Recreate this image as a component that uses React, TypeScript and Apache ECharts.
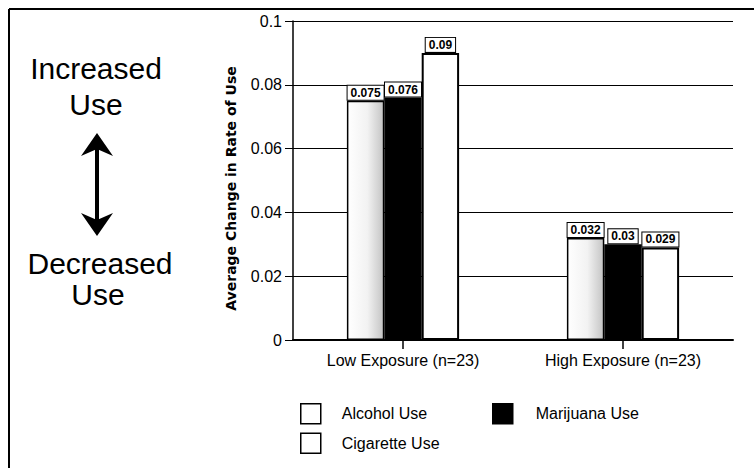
import React, { useEffect, useRef } from "react";
import * as echarts from "echarts";

// Exposure groups and the average change in rate of use for each substance
const categories = ["Low Exposure (n=23)", "High Exposure (n=23)"];
const seriesNames = ["Alcohol Use", "Marijuana Use", "Cigarette Use"];
const alcoholUse = [0.075, 0.032];
const marijuanaUse = [0.076, 0.03];
const cigaretteUse = [0.09, 0.029];
const yMin = 0;
const yMax = 0.1;
const yStep = 0.02;

const FONT = "Liberation Sans, Arial, sans-serif";

export default function App() {
  const ref = useRef<HTMLDivElement>(null);

  useEffect(() => {
    if (!ref.current) return;
    const chart = echarts.init(ref.current, null, { renderer: "svg" });

    const valueLabel = {
      show: true,
      position: "top" as const,
      distance: 1,
      color: "#000",
      fontFamily: FONT,
      fontSize: 12,
      fontWeight: "bold" as const,
      backgroundColor: "#fff",
      borderColor: "#000",
      borderWidth: 1,
      padding: [1, 3, 1, 3],
    };

    const alcoholFill = new echarts.graphic.LinearGradient(0, 0, 1, 0, [
      { offset: 0, color: "#ffffff" },
      { offset: 0.55, color: "#f2f2f2" },
      { offset: 1, color: "#c4c4c4" },
    ]);

    chart.setOption({
      animation: false,
      backgroundColor: "#fff",
      textStyle: { fontFamily: FONT, color: "#000" },
      grid: { left: 293, right: 21, top: 21, bottom: 128, containLabel: false },
      xAxis: {
        type: "category",
        data: categories,
        boundaryGap: true,
        axisLine: { show: true, lineStyle: { color: "#000", width: 2 } },
        axisTick: { show: true, alignWithLabel: true, length: 9, lineStyle: { color: "#000", width: 1.5 } },
        axisLabel: { color: "#000", fontFamily: FONT, fontSize: 16, margin: 12 },
        splitLine: { show: false },
      },
      yAxis: {
        type: "value",
        min: yMin,
        max: yMax,
        interval: yStep,
        name: "Average Change in Rate of Use",
        nameLocation: "middle",
        nameGap: 55,
        nameTextStyle: {
          color: "#000",
          fontFamily: "DejaVu Sans, sans-serif",
          fontWeight: "bold",
          fontSize: 14,
          padding: [0, 0, 0, -16],
        },
        axisLine: { show: true, lineStyle: { color: "#000", width: 1.5 } },
        axisTick: { show: true, inside: false, length: 8, lineStyle: { color: "#000", width: 1 } },
        axisLabel: {
          color: "#000",
          fontFamily: FONT,
          fontSize: 16,
          margin: 11,
          formatter: (v: number) => String(+v.toFixed(2)),
        },
        splitLine: { show: true, lineStyle: { color: "#000", width: 1 } },
      },
      legend: [
        {
          data: [
            { name: "Alcohol Use", itemStyle: { color: "#fff" } },
            { name: "Cigarette Use", itemStyle: { color: "#fff" } },
          ],
          orient: "vertical",
          left: 295,
          top: 398,
          itemWidth: 20,
          itemHeight: 20,
          itemGap: 8,
          icon: "rect",
          selectedMode: false,
          itemStyle: { borderColor: "#000", borderWidth: 1.5 },
          textStyle: { color: "#000", fontFamily: FONT, fontSize: 16, padding: [0, 0, 0, 16] },
        },
        {
          data: [{ name: "Marijuana Use", itemStyle: { color: "#000" } }],
          orient: "vertical",
          left: 487,
          top: 398,
          itemWidth: 20,
          itemHeight: 20,
          icon: "rect",
          selectedMode: false,
          itemStyle: { borderColor: "#000", borderWidth: 1.5 },
          textStyle: { color: "#000", fontFamily: FONT, fontSize: 16, padding: [0, 0, 0, 18] },
        },
      ],
      series: [
        {
          name: seriesNames[0],
          type: "bar",
          data: alcoholUse,
          barGap: "0%",
          barCategoryGap: "49%",
          itemStyle: { color: alcoholFill, borderColor: "#000", borderWidth: 1.5 },
          label: valueLabel,
        },
        {
          name: seriesNames[1],
          type: "bar",
          data: marijuanaUse,
          itemStyle: { color: "#000", borderColor: "#000", borderWidth: 1.5 },
          label: valueLabel,
        },
        {
          name: seriesNames[2],
          type: "bar",
          data: cigaretteUse,
          itemStyle: { color: "#fff", borderColor: "#000", borderWidth: 2 },
          label: valueLabel,
        },
      ],
      graphic: [
        // frame
        { type: "line", shape: { x1: 9, y1: 9, x2: 754, y2: 9 }, style: { stroke: "#000", lineWidth: 2 } },
        { type: "line", shape: { x1: 9, y1: 9, x2: 9, y2: 468 }, style: { stroke: "#000", lineWidth: 2 } },
        // direction annotation
        {
          type: "text",
          x: 96,
          y: 68,
          style: { text: "Increased", font: `30px ${FONT}`, fill: "#000", textAlign: "center", textVerticalAlign: "middle" },
        },
        {
          type: "text",
          x: 96,
          y: 104,
          style: { text: "Use", font: `30px ${FONT}`, fill: "#000", textAlign: "center", textVerticalAlign: "middle" },
        },
        {
          type: "line",
          shape: { x1: 97, y1: 145, x2: 97, y2: 223 },
          style: { stroke: "#000", lineWidth: 4 },
        },
        {
          type: "polygon",
          shape: { points: [[97, 133], [113, 156], [97, 149], [81, 156]] },
          style: { fill: "#000" },
        },
        {
          type: "polygon",
          shape: { points: [[97, 236], [113, 213], [97, 220], [81, 213]] },
          style: { fill: "#000" },
        },
        {
          type: "text",
          x: 100,
          y: 263,
          style: { text: "Decreased", font: `30px ${FONT}`, fill: "#000", textAlign: "center", textVerticalAlign: "middle" },
        },
        {
          type: "text",
          x: 98,
          y: 294,
          style: { text: "Use", font: `30px ${FONT}`, fill: "#000", textAlign: "center", textVerticalAlign: "middle" },
        },
      ],
    });

    return () => chart.dispose();
  }, []);

  return (
    <div
      ref={ref}
      style={{ position: "fixed", left: 0, top: 0, width: 754, height: 468, background: "#fff" }}
    />
  );
}
